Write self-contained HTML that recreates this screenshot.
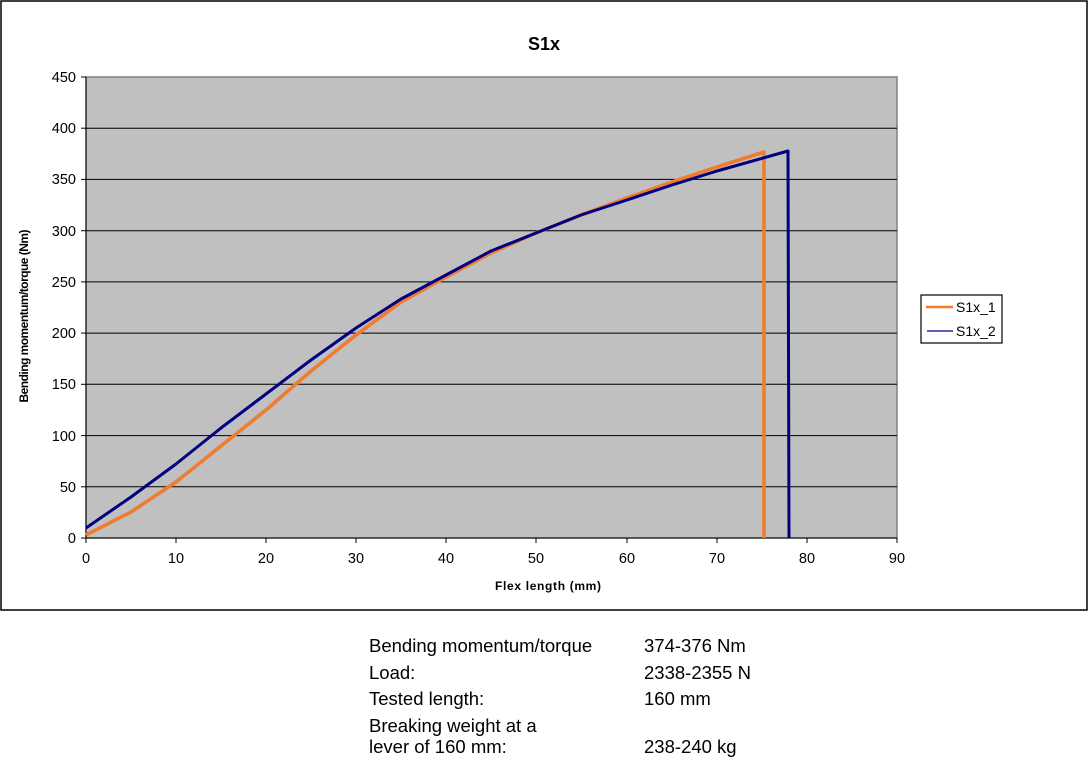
<!DOCTYPE html>
<html><head><style>
body{margin:0;background:#fff;width:1088px;height:777px;overflow:hidden;font-family:"Liberation Sans",Arial,sans-serif}
.t{position:absolute;font-size:18.5px;color:#000}
</style></head><body>
<svg width="1088" height="777" style="position:absolute;left:0;top:0" font-family="Liberation Sans, Arial, sans-serif">
<rect x="1" y="1" width="1086" height="609" fill="#fff" stroke="#000" stroke-width="1.5"/>
<text x="544" y="50" text-anchor="middle" font-size="18" font-weight="bold">S1x</text>
<rect x="86" y="77" width="811" height="461" fill="#c0c0c0" stroke="#808080" stroke-width="1.5"/>
<g stroke="#000" stroke-width="1">
<line x1="86" x2="897" y1="128.2" y2="128.2"/><line x1="86" x2="897" y1="179.4" y2="179.4"/>
<line x1="86" x2="897" y1="230.7" y2="230.7"/><line x1="86" x2="897" y1="281.9" y2="281.9"/>
<line x1="86" x2="897" y1="333.1" y2="333.1"/><line x1="86" x2="897" y1="384.3" y2="384.3"/>
<line x1="86" x2="897" y1="435.6" y2="435.6"/><line x1="86" x2="897" y1="486.8" y2="486.8"/>
<line x1="86" x2="86" y1="77" y2="538"/><line x1="86" x2="897" y1="538" y2="538"/>
<line x1="81" x2="86" y1="77" y2="77"/><line x1="81" x2="86" y1="128.2" y2="128.2"/><line x1="81" x2="86" y1="179.4" y2="179.4"/><line x1="81" x2="86" y1="230.7" y2="230.7"/><line x1="81" x2="86" y1="281.9" y2="281.9"/><line x1="81" x2="86" y1="333.1" y2="333.1"/><line x1="81" x2="86" y1="384.3" y2="384.3"/><line x1="81" x2="86" y1="435.6" y2="435.6"/><line x1="81" x2="86" y1="486.8" y2="486.8"/><line x1="81" x2="86" y1="538" y2="538"/>
<line x1="86" x2="86" y1="538" y2="543"/><line x1="176" x2="176" y1="538" y2="543"/><line x1="266" x2="266" y1="538" y2="543"/><line x1="356" x2="356" y1="538" y2="543"/><line x1="446" x2="446" y1="538" y2="543"/><line x1="536" x2="536" y1="538" y2="543"/><line x1="627" x2="627" y1="538" y2="543"/><line x1="717" x2="717" y1="538" y2="543"/><line x1="807" x2="807" y1="538" y2="543"/><line x1="897" x2="897" y1="538" y2="543"/>
</g>
<g font-size="14.5" text-anchor="end">
<text x="76" y="82">450</text><text x="76" y="133">400</text><text x="76" y="184">350</text><text x="76" y="236">300</text><text x="76" y="287">250</text><text x="76" y="338">200</text><text x="76" y="389">150</text><text x="76" y="441">100</text><text x="76" y="492">50</text><text x="76" y="543">0</text>
</g>
<g font-size="14.5" text-anchor="middle">
<text x="86" y="563">0</text><text x="176" y="563">10</text><text x="266" y="563">20</text><text x="356" y="563">30</text><text x="446" y="563">40</text><text x="536" y="563">50</text><text x="627" y="563">60</text><text x="717" y="563">70</text><text x="807" y="563">80</text><text x="897" y="563">90</text>
</g>
<text x="548" y="590" font-size="12" font-weight="bold" text-anchor="middle" textLength="106">Flex length (mm)</text>
<text transform="translate(28,316) rotate(-90)" font-size="12" font-weight="bold" text-anchor="middle" textLength="173">Bending momentum/torque (Nm)</text>
<path d="M86,535 L131,512 L176,482 L221,446 L266,410 L311,371 L356,335 L401,302 L446,277 L491,253 L536,233 L581,215 L627,198 L672,182 L717,167 L764,152 L764,538" fill="none" stroke="#f07c30" stroke-width="3.6" stroke-linejoin="round"/>
<path d="M86,528 L131,497 L176,464 L221,428 L266,394 L311,360 L356,328 L401,299 L446,275 L491,251 L536,233 L581,215 L627,200 L672,185 L717,171 L788,151 L789,538" fill="none" stroke="#000080" stroke-width="3" stroke-linejoin="round"/>
<rect x="921" y="295" width="81" height="48" fill="#fff" stroke="#000" stroke-width="1.2"/>
<line x1="926" x2="953" y1="307" y2="307" stroke="#f07c30" stroke-width="2.5"/>
<line x1="927" x2="953" y1="331" y2="331" stroke="#000080" stroke-width="1.2"/>
<text x="956" y="312" font-size="14">S1x_1</text>
<text x="956" y="336" font-size="14">S1x_2</text>
</svg>
<div class="t" style="left:369px;top:635px">Bending momentum/torque</div>
<div class="t" style="left:644px;top:635px">374-376 Nm</div>
<div class="t" style="left:369px;top:662px">Load:</div>
<div class="t" style="left:644px;top:662px">2338-2355 N</div>
<div class="t" style="left:369px;top:688px">Tested length:</div>
<div class="t" style="left:644px;top:688px">160 mm</div>
<div class="t" style="left:369px;top:715px">Breaking weight at a</div>
<div class="t" style="left:369px;top:736px">lever of 160 mm:</div>
<div class="t" style="left:644px;top:736px">238-240 kg</div>
</body></html>
